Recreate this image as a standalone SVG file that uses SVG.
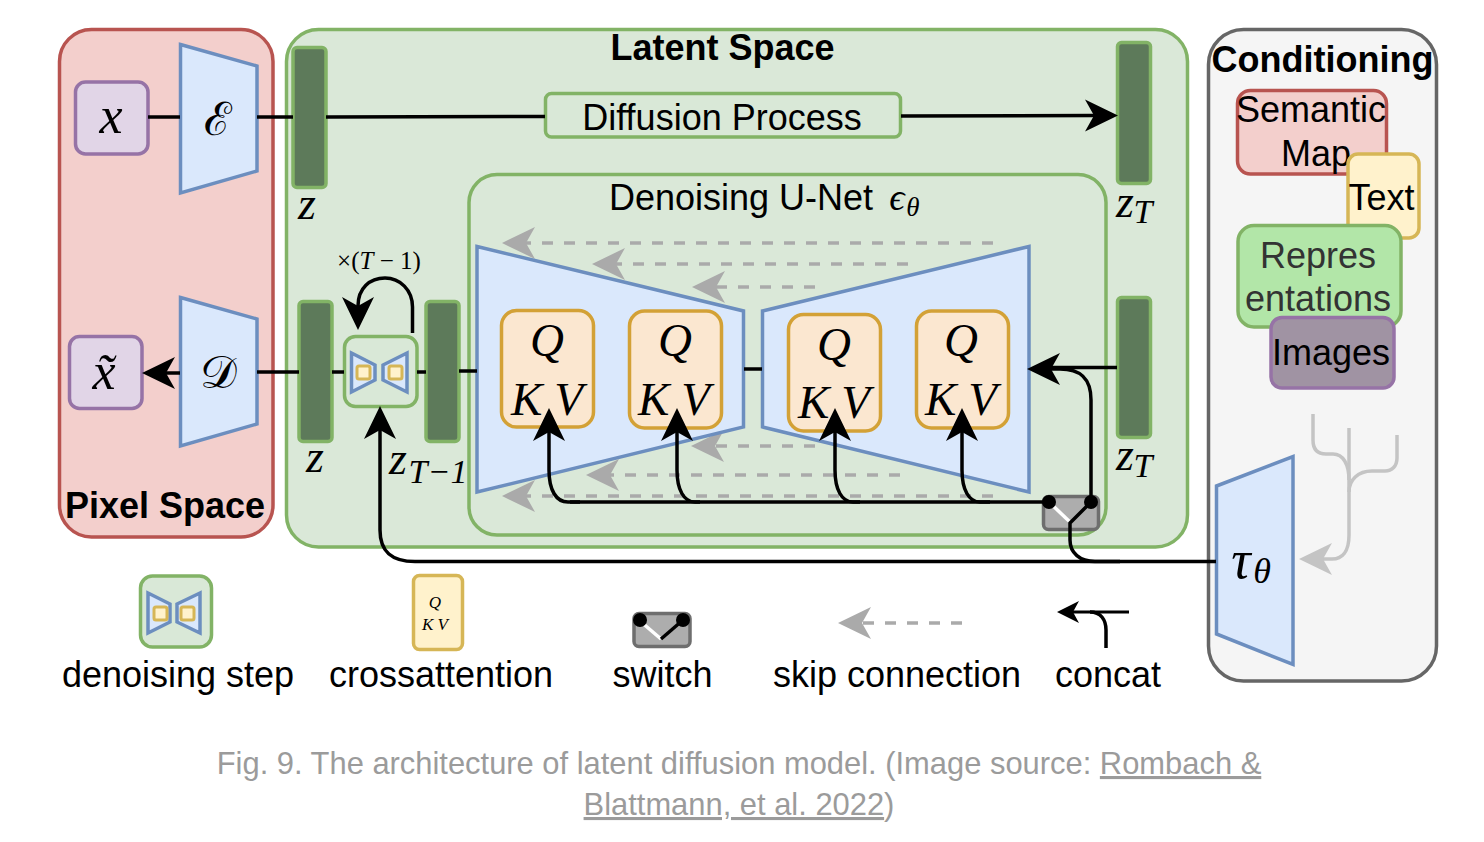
<svg xmlns="http://www.w3.org/2000/svg" width="1484" height="842" viewBox="0 0 1484 842">
<style>
text{font-family:"Liberation Sans",Arial,sans-serif;fill:#000}
.t{font-size:36px;text-anchor:middle}
.b{font-size:36px;font-weight:bold;text-anchor:middle}
.m{font-family:"Liberation Serif","Times New Roman",serif;font-style:italic;text-anchor:middle}
.c{font-size:30.9px;fill:#9b9b9b;text-anchor:middle}
.u{text-decoration:underline;text-decoration-skip-ink:none}
.trap{fill:#dae8fc;stroke:#6c8ebf;stroke-width:3.5}
.bar{fill:#5d7a5a;stroke:#82b366;stroke-width:3.5}
.qkv{fill:#fbe7d0;stroke:#d3a136;stroke-width:3.5}
.step{fill:#d9e8d7;stroke:#82b366;stroke-width:3.5}
.sq{fill:#fff2cc;stroke:#d6b656;stroke-width:3}
.purple{fill:#e1d5e7;stroke:#9673a6;stroke-width:3.5}
.line{fill:none;stroke:#000;stroke-width:3.5}
.arrow{fill:none;stroke:#000;stroke-width:3.5;marker-end:url(#ah)}
.dash{fill:none;stroke:#aaa;stroke-width:3.5;stroke-dasharray:11 11;marker-end:url(#gh)}
.gray{fill:none;stroke:#c4c4c4;stroke-width:3.5}
.sw{fill:#adadad;stroke:#6e6e6e;stroke-width:3.5}
</style>
<defs>
<marker id="ah" markerUnits="userSpaceOnUse" markerWidth="34" markerHeight="34" viewBox="0 0 34 34" refX="9" refY="17" orient="auto"><path d="M0 1L33 17L0 33L9 17Z" fill="#000"/></marker>
<marker id="gh" markerUnits="userSpaceOnUse" markerWidth="34" markerHeight="34" viewBox="0 0 34 34" refX="9" refY="17" orient="auto"><path d="M0 1L33 17L0 33L9 17Z" fill="#aaa"/></marker>
<marker id="lh" markerUnits="userSpaceOnUse" markerWidth="34" markerHeight="34" viewBox="0 0 34 34" refX="9" refY="17" orient="auto"><path d="M0 1L33 17L0 33L9 17Z" fill="#c4c4c4"/></marker>
<marker id="sh" markerUnits="userSpaceOnUse" markerWidth="24" markerHeight="24" viewBox="0 0 24 24" refX="6" refY="12" orient="auto"><path d="M0 1L22 12L0 23L6 12Z" fill="#000"/></marker>
</defs>

<g id="pixel-space"><rect x="59.500" y="29.500" width="213.500" height="507.500" rx="32" fill="#f3cfcc" stroke="#b85450" stroke-width="3.500"/><text class="b" x="165" y="518">Pixel Space</text></g>
<g id="latent-space"><rect x="286.500" y="29.500" width="901" height="517.500" rx="32" fill="#dae8d8" stroke="#82b366" stroke-width="3.500"/><text class="b" x="722.500" y="60">Latent Space</text></g>
<g id="conditioning"><rect x="1208.500" y="29.500" width="228" height="651.500" rx="35" fill="#f5f5f5" stroke="#666" stroke-width="3.500"/><text class="b" x="1322.500" y="72">Conditioning</text></g>
<g id="unet-box"><rect x="469" y="174.500" width="637" height="360.500" rx="28" fill="#dae8d8" stroke="#82b366" stroke-width="3.500"/><text class="t" x="741" y="210">Denoising U-Net</text><text class="m" x="897" y="210" font-size="38">ϵ</text><text class="m" x="913" y="216" font-size="27">θ</text></g>

<g id="skip-connectors">
<path class="dash" d="M993 243H526"/>
<path class="dash" d="M908 264H616"/>
<path class="dash" d="M815 287H716"/>
<path class="dash" d="M815 446H715"/>
<path class="dash" d="M900 475H610"/>
<path class="dash" d="M993 496H526"/>
</g>

<g id="encoder-x"><rect class="purple" x="75.500" y="82" width="72.500" height="72" rx="10"/><text class="m" x="111" y="133" font-size="52">x</text></g>
<g id="encoder"><polygon class="trap" points="180.500,44.500 257,66 257,171 180.500,193"/><text class="m" x="218" y="135" font-size="46" style="font-style:normal">ℰ</text></g>
<g id="decoder-x"><rect class="purple" x="69.500" y="336.500" width="72.500" height="72" rx="10"/><text class="m" x="104" y="389" font-size="52">x̃</text></g>
<g id="decoder"><polygon class="trap" points="180.500,297.500 257,319 257,424 180.500,446"/><text class="m" x="218" y="388" font-size="46" style="font-style:normal">𝒟</text></g>

<g id="z-top"><rect class="bar" x="293" y="47.500" width="33" height="140" rx="4"/><text class="m" x="307" y="219" font-size="46">z</text></g>
<g id="z-bottom"><rect class="bar" x="299" y="301.500" width="33" height="140" rx="4"/><text class="m" x="315" y="472" font-size="46">z</text></g>
<g id="z-t-minus-1"><rect class="bar" x="426" y="301.500" width="33" height="140" rx="4"/><text class="m" x="398" y="474" font-size="46">z</text><text class="m" x="438" y="483" font-size="34">T−1</text></g>
<g id="z-t-top"><rect class="bar" x="1117.500" y="42.500" width="33" height="141" rx="4"/><text class="m" x="1125" y="217" font-size="46">z</text><text class="m" x="1143" y="223" font-size="34">T</text></g>
<g id="z-t-bottom"><rect class="bar" x="1117.500" y="297.500" width="33" height="140" rx="4"/><text class="m" x="1125" y="470" font-size="46">z</text><text class="m" x="1143" y="477" font-size="34">T</text></g>

<g id="diffusion-process"><rect x="545.500" y="93.500" width="355" height="43.500" rx="6" fill="#d9e8d7" stroke="#82b366" stroke-width="3.500"/><text class="t" x="722" y="130">Diffusion Process</text></g>

<g id="denoising-step"><rect class="step" x="344.500" y="336.500" width="72.500" height="70" rx="11"/>
<polygon class="trap" points="351.500,353 375,365 375,380 351.500,392"/><polygon class="trap" points="407,353 383,365 383,380 407,392"/>
<rect class="sq" x="357" y="366" width="13" height="13" rx="2"/><rect class="sq" x="389" y="366" width="13" height="13" rx="2"/></g>

<g id="unet-encoder"><polygon class="trap" points="477,246.500 743.500,311 743.500,427 477,492"/></g>
<g id="unet-decoder"><polygon class="trap" points="762.500,311 1029,246.500 1029,492 762.500,427"/></g>
<g id="qkv-1"><rect class="qkv" x="501.500" y="310.500" width="92" height="116.500" rx="15"/><text class="m" x="547" y="356" font-size="47">Q</text><text class="m" x="547" y="415" font-size="47">K V</text></g>
<g id="qkv-2"><rect class="qkv" x="629.500" y="311" width="92" height="117" rx="15"/><text class="m" x="675" y="356" font-size="47">Q</text><text class="m" x="674" y="415" font-size="47">K V</text></g>
<g id="qkv-3"><rect class="qkv" x="788.500" y="314.500" width="92" height="116.500" rx="15"/><text class="m" x="834" y="360" font-size="47">Q</text><text class="m" x="834" y="418" font-size="47">K V</text></g>
<g id="qkv-4"><rect class="qkv" x="916.500" y="311" width="92" height="117" rx="15"/><text class="m" x="961" y="356" font-size="47">Q</text><text class="m" x="961" y="415" font-size="47">K V</text></g>

<g id="semantic-map"><rect x="1237.500" y="90.500" width="149" height="83.500" rx="13" fill="#f3cfcc" stroke="#b85450" stroke-width="3.500"/><text class="t" x="1311" y="122">Semantic</text><text class="t" x="1316" y="166">Map</text></g>
<g id="text-box"><rect x="1348" y="154" width="71" height="84" rx="10" fill="#fff2cc" stroke="#d6b656" stroke-width="3.500"/><text class="t" x="1381.500" y="210">Text</text></g>
<g id="representations"><rect x="1238" y="225.500" width="163" height="101.500" rx="16" fill="#b2e6a8" stroke="#82b366" stroke-width="3.500"/><text class="t" x="1318" y="268" style="fill:#333">Repres</text><text class="t" x="1318" y="311" style="fill:#333">entations</text></g>
<g id="images"><rect x="1271" y="317.500" width="123" height="70.500" rx="11" fill="#a093a3" stroke="#9673a6" stroke-width="3.500"/><text class="t" x="1331" y="365">Images</text></g>
<g id="tau"><polygon class="trap" points="1216.500,486 1293,456.500 1293,664.500 1216.500,634"/><text class="m" x="1241" y="578" font-size="54">τ</text><text class="m" x="1262" y="583" font-size="36">θ</text></g>

<g id="switch"><rect class="sw" x="1043.500" y="496.500" width="55" height="33" rx="5"/><path d="M1049 502L1070 522" stroke="#fff" stroke-width="3.500"/></g>

<g id="connectors">
<path class="line" d="M148 117H180"/>
<path class="line" d="M257 117H293"/>
<path class="line" d="M326 117L545 116.500"/>
<path d="M901 116L1094 115.500" class="arrow"/>
<path class="arrow" d="M180 373H166"/>
<path class="line" d="M257 372H299"/>
<path class="line" d="M332 372H344"/>
<path class="line" d="M417 372H426"/>
<path class="line" d="M459 371H477"/>
<path class="line" d="M744 369H762"/>
<path class="arrow" d="M412.500 333V307C412.500 290 400 278 385 278C370 278 358 288 358 306"/>
<path class="arrow" d="M1216 561.500H415C392 561.500 380 552 380 530V430"/>
<path class="line" d="M1117 367.500H1040"/>
<path class="arrow" d="M1091 502V400C1091 378 1080 369 1060 369H1051"/>
<path class="line" d="M1091 502L1070 523V540C1070 553 1080 561.500 1095 561.500H1120"/>
<path class="line" d="M1049 502H570"/>
<path class="arrow" d="M580 502H568C556 502 549 490 549 470V432"/>
<path class="arrow" d="M700 502H695C684 502 677 490 677 470V432"/>
<path class="arrow" d="M860 502H853C842 502 835 490 835 470V432"/>
<path class="arrow" d="M990 502H980C969 502 962 490 962 470V432"/>
<circle cx="1049" cy="502" r="7"/><circle cx="1091" cy="502" r="7"/>
</g>

<g id="condition-connectors">
<path class="gray" d="M1313 414V440C1313 450 1318 454 1326 454H1333C1343 454 1349 464 1349 480"/>
<path class="gray" d="M1397 435V458C1397 466 1392 471 1385 471H1372C1358 471 1349 480 1349 492"/>
<path d="M1349 428V535C1349 552 1342 559 1332 559H1323" fill="none" stroke="#c4c4c4" stroke-width="3.500" marker-end="url(#lh)"/>
</g>

<g id="legend-step"><rect class="step" x="140.500" y="576" width="71" height="71" rx="12"/>
<polygon class="trap" points="148,593 170,604 170,622 148,633"/><polygon class="trap" points="200,593 177,604 177,622 200,633"/>
<rect class="sq" x="154" y="607" width="13" height="13" rx="2"/><rect class="sq" x="181" y="607" width="13" height="13" rx="2"/>
<text class="t" x="178" y="687">denoising step</text></g>
<g id="legend-cross"><rect x="413.500" y="575.500" width="49" height="74" rx="6" fill="#fff2cc" stroke="#d6b656" stroke-width="3.500"/><text class="m" x="435" y="608" font-size="17">Q</text><text class="m" x="435" y="630" font-size="17">K V</text>
<text class="t" x="441" y="687">crossattention</text></g>
<g id="legend-switch"><rect class="sw" x="634" y="613.500" width="56" height="33" rx="5"/><path d="M640 621L661 639" stroke="#fff" stroke-width="3.500"/><path class="line" d="M683 620L661 639"/><circle cx="640" cy="620" r="7"/><circle cx="683" cy="620" r="7"/>
<text class="t" x="662.500" y="687">switch</text></g>
<g id="legend-skip"><path class="dash" d="M962 623H862"/><text class="t" x="897" y="687">skip connection</text></g>
<g id="legend-concat"><path d="M1129 612H1073" fill="none" stroke="#000" stroke-width="3"  marker-end="url(#sh)"/><path d="M1090 612C1101 612 1106 620 1106 630V648" class="line"/><text class="t" x="1108" y="687">concat</text></g>

<g id="caption"><text class="c" x="739" y="774">Fig. 9. The architecture of latent diffusion model. (Image source: <tspan class="u">Rombach &amp;</tspan></text><text class="c" x="739" y="815"><tspan class="u">Blattmann, et al. 2022</tspan>)</text></g>

<g id="loop-label"><text class="m" x="379" y="269" font-size="25" style="font-style:normal">×(<tspan font-style="italic">T</tspan> − 1)</text></g>
</svg>
